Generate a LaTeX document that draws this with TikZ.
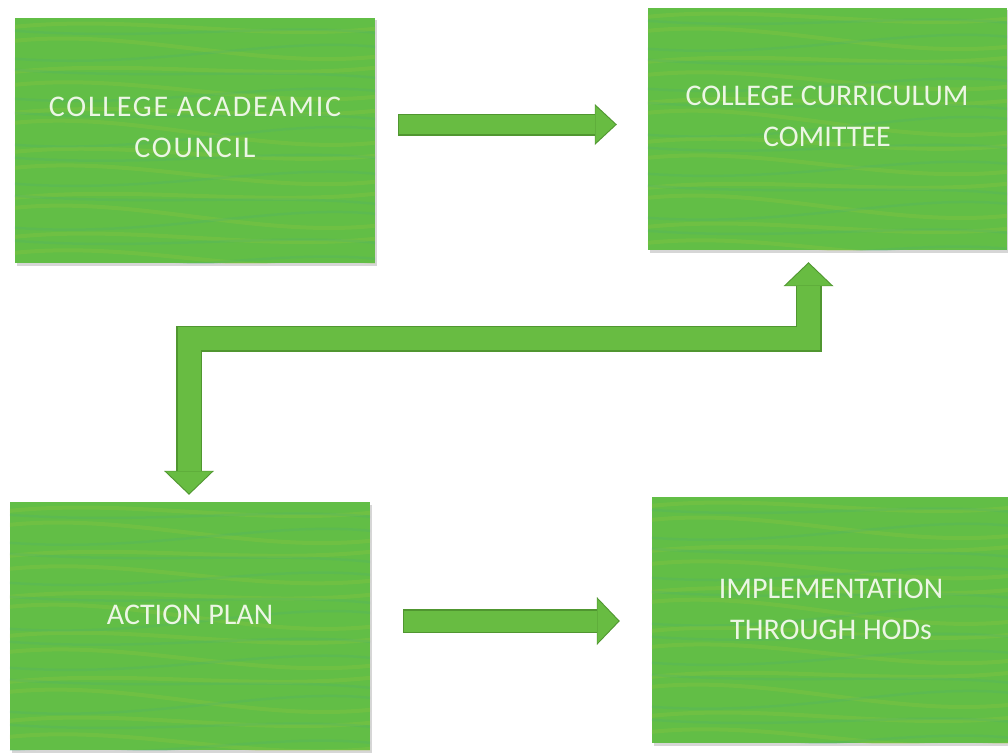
\documentclass[tikz,border=0pt]{standalone}
\usepackage{fontspec}
\setmainfont{Carlito}
\usetikzlibrary{arrows.meta,shadows}
\definecolor{gfill}{RGB}{98,190,70}
\definecolor{streakA}{RGB}{160,200,58}
\definecolor{streakB}{RGB}{72,176,120}
\definecolor{afill}{RGB}{104,188,66}
\definecolor{aline}{RGB}{80,150,48}
\definecolor{txt}{RGB}{236,246,228}
\newcommand{\greentexture}[1]{%
  \begin{scope}
    \clip (#1.south west) rectangle (#1.north east);
    \foreach \k/\d in {0/3,1/-4,2/6,3/-2,4/5,5/-6,6/2,7/-3,8/6,9/-5,10/3,11/-2} {
      \draw[line width=4pt, color=streakA, opacity=0.22]
        ([yshift={-(\k*21+6+\d)*1pt}]#1.north west) .. controls +(120,-12) and +(-120,12) .. ([yshift={-(\k*21+14-\d)*1pt}]#1.north east);
      \draw[line width=2.5pt, color=streakB, opacity=0.22]
        ([yshift={-(\k*21+16-\d)*1pt}]#1.north west) .. controls +(140,10) and +(-100,-10) .. ([yshift={-(\k*21+12+\d)*1pt}]#1.north east);
    }
  \end{scope}}
\tikzset{
  gbox/.style={fill=gfill, draw=none, inner sep=0pt,
    drop shadow={shadow xshift=1.5pt, shadow yshift=-2.5pt, fill=black!45, opacity=0.35}},
  boxtext/.style={text=txt, align=center, inner sep=0pt, font=\fontsize{30}{41}\selectfont},
  barouter/.style={draw=aline, line width=#1, line join=miter, line cap=butt},
  barinner/.style={draw=afill, line width=#1, line join=miter, line cap=butt},
}
\begin{document}
\begin{tikzpicture}[x=1pt,y=-1pt]
\useasboundingbox[fill=white] (0,0) rectangle (1008,752);

% boxes
\node[gbox, minimum width=360pt, minimum height=245pt] (b1) at (195,140.5) {};
\node[gbox, minimum width=359pt, minimum height=242pt] (b2) at (827.5,129) {};
\node[gbox, minimum width=360pt, minimum height=248pt] (b3) at (190,626) {};
\node[gbox, minimum width=358pt, minimum height=246pt] (b4) at (831,620) {};
\greentexture{b1}
\greentexture{b2}
\greentexture{b3}
\greentexture{b4}

% texts
\node[boxtext, font=\fontsize{30}{41}\selectfont\addfontfeature{LetterSpace=6}] (t1) at (195,127) {COLLEGE ACADEAMIC\\COUNCIL};
\node[boxtext] (t2) at (827,116) {COLLEGE CURRICULUM\\COMITTEE};
\node[boxtext] (t3) at (190,615) {ACTION PLAN};
\node[boxtext] (t4) at (831,609) {IMPLEMENTATION\\THROUGH HODs};

% connector end points
\coordinate (a1s) at ([xshift=23pt,yshift=16pt]b1.east);
\coordinate (a1e) at ([xshift=-31pt,yshift=4.5pt]b2.west);
\coordinate (a3s) at ([xshift=33pt,yshift=5pt]b3.east);
\coordinate (a3e) at ([xshift=-32pt,yshift=-1pt]b4.west);
\coordinate (up) at ([xshift=-19pt,yshift=-12pt]b2.south);
\coordinate (dn) at ([xshift=-1pt,yshift=7pt]b3.north);
\coordinate (bar) at (500,338.5);

% arrow 1: academic council -> curriculum committee
\draw[barouter=22pt, -{Triangle[width=41pt,length=22pt,line width=0pt]}] (a1s) -- (a1e);
\draw[barinner=19pt, -{Triangle[width=37pt,length=20pt,line width=0pt,color=afill]}] ([xshift=1pt]a1s) -- ([xshift=-1.5pt]a1e);

% arrow 2: action plan -> implementation
\draw[barouter=24pt, -{Triangle[width=48pt,length=23pt,line width=0pt]}] (a3s) -- (a3e);
\draw[barinner=21pt, -{Triangle[width=44pt,length=21pt,line width=0pt,color=afill]}] ([xshift=1pt]a3s) -- ([xshift=-1.5pt]a3e);

% bent double arrow: curriculum committee <-> action plan
\draw[barouter=26pt, {Triangle[width=50pt,length=24pt,line width=0pt]}-{Triangle[width=50pt,length=24pt,line width=0pt]}]
  (dn) -- (dn |- bar) -- (up |- bar) -- (up);
\draw[barinner=23pt, {Triangle[width=46pt,length=22pt,line width=0pt,color=afill]}-{Triangle[width=46pt,length=22pt,line width=0pt,color=afill]}]
  ([yshift=1.5pt]dn) -- (dn |- bar) -- (up |- bar) -- ([yshift=-1.5pt]up);
\end{tikzpicture}
\end{document}
